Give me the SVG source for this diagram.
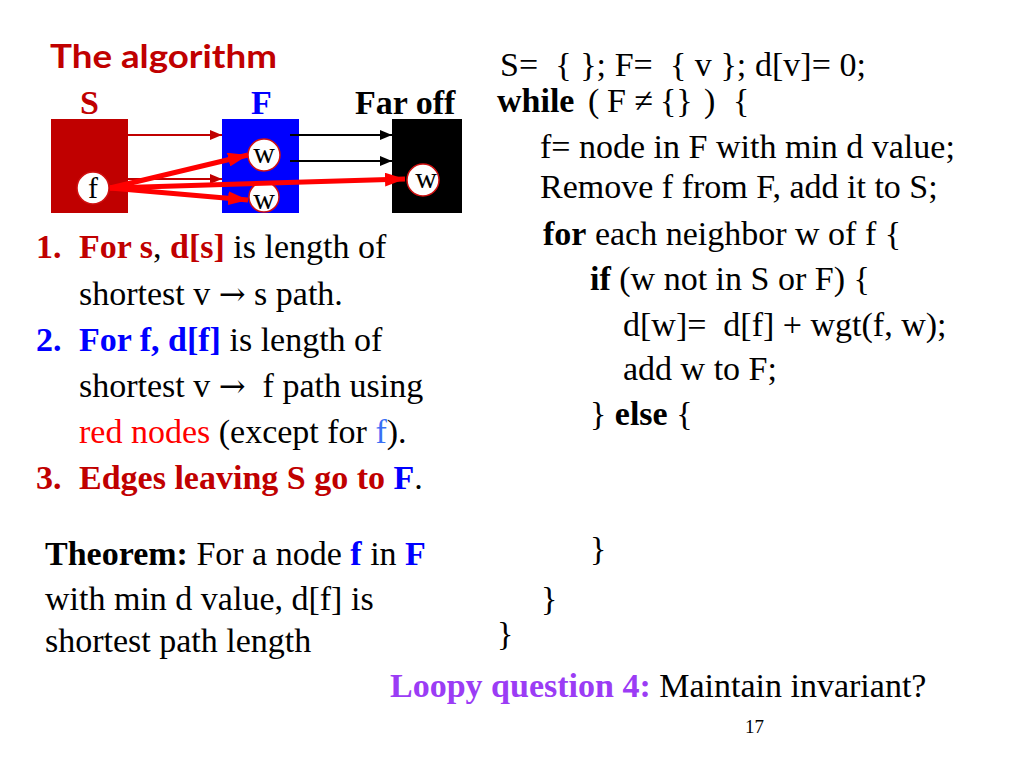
<svg xmlns="http://www.w3.org/2000/svg" width="1024" height="768" viewBox="0 0 1024 768">
<style>
.t{font-family:"Liberation Serif","Times New Roman",serif;font-size:34px;fill:#000}
.b{font-weight:bold}
.dr{fill:#c00000}
.bl{fill:#0000ff}
.rd{fill:#ff0000}
.lb{fill:#3a6ff5}
.pu{fill:#9b3cf5}
.ar{font-family:"DejaVu Serif",serif;font-size:32px}
.node{fill:#fff;stroke:#d01010;stroke-width:1.5}
.nl{font-family:"Liberation Serif","Times New Roman",serif;font-size:30px;fill:#000;text-anchor:middle}
</style>
<defs>
<marker id="ahThinRed" markerUnits="userSpaceOnUse" markerWidth="12" markerHeight="10" refX="12" refY="5" orient="auto"><path d="M0,0 L12,5 L0,10 z" fill="#c00000"/></marker>
<marker id="ahThinBlack" markerUnits="userSpaceOnUse" markerWidth="12" markerHeight="10" refX="12" refY="5" orient="auto"><path d="M0,0 L12,5 L0,10 z" fill="#000"/></marker>
<marker id="ahThick" markerUnits="userSpaceOnUse" markerWidth="20" markerHeight="14" refX="20" refY="7" orient="auto"><path d="M0,0 L20,7 L0,14 z" fill="#ff0000"/></marker>
</defs>
<rect width="1024" height="768" fill="#fff"/>

<text x="50" y="68" font-family="Lato,'DejaVu Sans',sans-serif" font-weight="bold" font-size="32" fill="#c00000" textLength="227" lengthAdjust="spacingAndGlyphs">The algorithm</text>

<text class="t b dr" x="80" y="114">S</text>
<text class="t b bl" x="251" y="114">F</text>
<text class="t b" x="355" y="114">Far off</text>

<g id="set-S"><rect x="51" y="119" width="77" height="94" fill="#c00000"/></g>
<g id="set-F"><rect x="222" y="119" width="77" height="94" fill="#0000ff"/></g>
<g id="set-far"><rect x="392" y="119" width="70" height="94" fill="#000"/></g>

<g id="connectors">
<line x1="128" y1="135" x2="222" y2="135" stroke="#c00000" stroke-width="2" marker-end="url(#ahThinRed)"/>
<line x1="128" y1="179" x2="222" y2="179" stroke="#c00000" stroke-width="2" marker-end="url(#ahThinRed)"/>
<line x1="290" y1="135" x2="392" y2="135" stroke="#000" stroke-width="2" marker-end="url(#ahThinBlack)"/>
<line x1="290" y1="161" x2="392" y2="161" stroke="#000" stroke-width="2" marker-end="url(#ahThinBlack)"/>
</g>

<g id="node-w1"><circle class="node" cx="264" cy="155" r="16"/><text class="nl" x="264" y="163">w</text></g>
<g id="node-w2"><circle class="node" cx="264" cy="197" r="15"/><text class="nl" x="264" y="209">w</text></g>
<g id="node-w3"><circle class="node" cx="423" cy="180" r="16"/><text class="nl" x="426" y="188">w</text></g>
<g id="node-f"><circle class="node" cx="93" cy="188" r="16" stroke="none"/><text class="nl" x="93" y="198">f</text></g>

<g id="connectors-thick">
<line x1="110" y1="188" x2="248" y2="155" stroke="#ff0000" stroke-width="5" marker-end="url(#ahThick)"/>
<line x1="110" y1="188" x2="248" y2="200" stroke="#ff0000" stroke-width="5" marker-end="url(#ahThick)"/>
<line x1="110" y1="188" x2="405" y2="179" stroke="#ff0000" stroke-width="5" marker-end="url(#ahThick)"/>
</g>

<g id="invariants">
<text class="t" y="258"><tspan class="b dr" x="36">1.</tspan><tspan class="b dr" x="79">For s</tspan><tspan>, </tspan><tspan class="b dr">d[s]</tspan><tspan> is length of</tspan></text>
<text class="t" x="79" y="305">shortest v <tspan class="ar">→</tspan> s path.</text>
<text class="t" y="351"><tspan class="b bl" x="36">2.</tspan><tspan class="b bl" x="79">For f, d[f]</tspan><tspan> is length of</tspan></text>
<text class="t" x="79" y="397" xml:space="preserve">shortest v <tspan class="ar">→</tspan>  f path using</text>
<text class="t" x="79" y="443"><tspan class="rd">red nodes</tspan> (except for <tspan class="lb">f</tspan>).</text>
<text class="t" y="489"><tspan class="b dr" x="36">3.</tspan><tspan class="b dr" x="79">Edges leaving S go to </tspan><tspan class="b bl">F</tspan><tspan>.</tspan></text>
</g>

<g id="theorem">
<text class="t" x="45" y="565"><tspan class="b">Theorem:</tspan> For a node <tspan class="b bl">f</tspan> in <tspan class="b bl">F</tspan></text>
<text class="t" x="45" y="610">with min d value, d[f] is</text>
<text class="t" x="45" y="652">shortest path length</text>
</g>

<g id="code">
<text class="t" x="500" y="76" xml:space="preserve" textLength="366" lengthAdjust="spacing">S=  { }; F=  { v }; d[v]= 0;</text>
<text class="t" y="112"><tspan class="b" x="497">while</tspan><tspan x="588">(</tspan><tspan x="607">F ≠</tspan><tspan x="660">{}</tspan><tspan x="704">)</tspan><tspan x="733">{</tspan></text>
<text class="t" x="540" y="158">f= node in F with min d value;</text>
<text class="t" x="540" y="198">Remove f from F, add it to S;</text>
<text class="t" x="543" y="245"><tspan class="b">for</tspan> each neighbor w of f {</text>
<text class="t" x="590" y="290"><tspan class="b">if</tspan> (w not in S or F) {</text>
<text class="t" x="623" y="336" xml:space="preserve">d[w]=  d[f] + wgt(f, w);</text>
<text class="t" x="623" y="380">add w to F;</text>
<text class="t" x="590" y="425">} <tspan class="b">else</tspan> {</text>
<text class="t" x="590" y="560">}</text>
<text class="t" x="541" y="610">}</text>
<text class="t" x="497" y="645">}</text>
</g>

<text class="t" x="390" y="697"><tspan class="b pu">Loopy question 4:</tspan> Maintain invariant?</text>
<text x="745" y="733" font-family="'Liberation Serif','Times New Roman',serif" font-size="19" fill="#000">17</text>
</svg>
